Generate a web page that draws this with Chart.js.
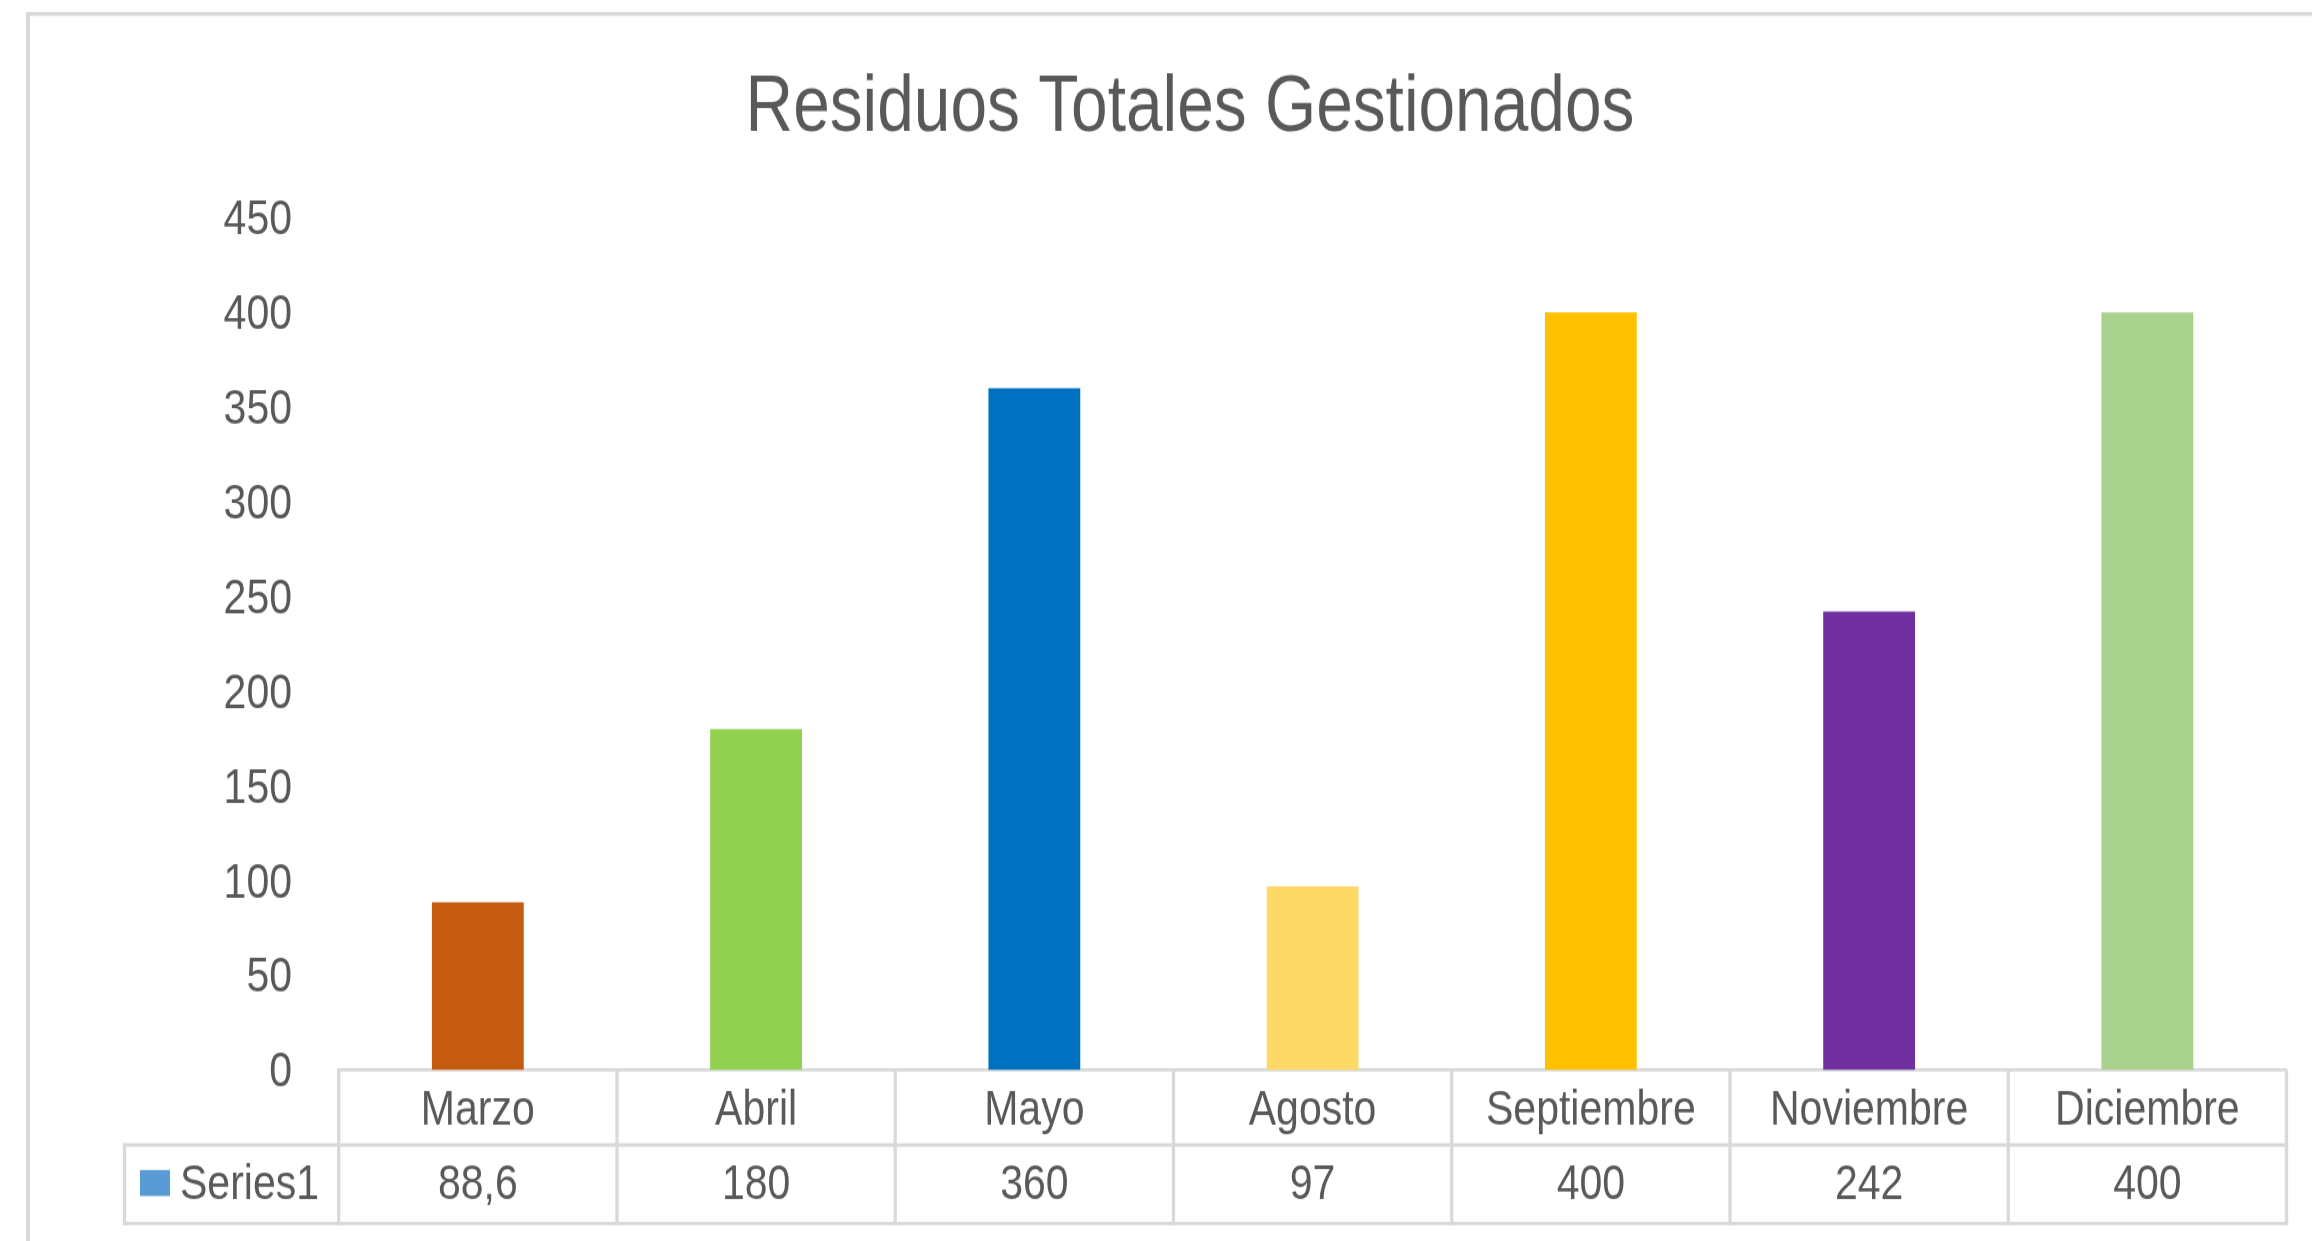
<!DOCTYPE html>
<html>
<head>
<meta charset="utf-8">
<script src="https://cdn.jsdelivr.net/npm/chart.js@4/dist/chart.umd.min.js"></script>
<style>
  html { margin: 0; padding: 0; background: #fff; overflow: hidden; }
  body { margin: 0; padding: 0; background: #fff; width: 2312px; height: 1241px; }
  /* the chart is laid out at a shorter height and stretched vertically,
     which gives the tall, narrow lettering of the original chart */
  #wrap { width: 2312px; height: 1034px; transform: scaleY(1.2002); transform-origin: 0 0; }
  canvas { display: block; }
</style>
</head>
<body>
<div id="wrap"><canvas id="chart" width="2312" height="1034"></canvas></div>
<script>
const chartTitle = 'Residuos Totales Gestionados';
const categories = ['Marzo', 'Abril', 'Mayo', 'Agosto', 'Septiembre', 'Noviembre', 'Diciembre'];
const seriesName = 'Series1';
const seriesValues = [88.6, 180, 360, 97, 400, 242, 400];
const barColors = ['#c55a11', '#92d050', '#0070c0', '#ffd966', '#ffc000', '#7030a0', '#a9d18e'];
const seriesKeyColor = '#5b9bd5';
const yMin = 0;
const yMax = 450;
const yStep = 50;

const SY = 1.2002;              // vertical stretch applied to the page
const FONT = '"Liberation Sans", Arial, sans-serif';
const TEXT = '#595959';
const RULE = '#d9d9d9';

function fmt(v) { return String(v).replace('.', ','); }

// frame round the chart plus the data table under the category axis
const dataTable = {
  id: 'dataTable',
  beforeDraw(chart) {
    const ctx = chart.ctx;
    ctx.save();
    ctx.fillStyle = '#fff';
    ctx.fillRect(0, 0, chart.width, chart.height);
    ctx.restore();
  },
  afterDraw(chart) {
    const ctx = chart.ctx;
    const x = chart.scales.x;
    const area = chart.chartArea;
    const top = area.bottom;
    const mid = 1145 / SY;
    const bot = 1223.5 / SY;
    const tableLeft = 124.5;
    const hw = 3.4 / SY;   // horizontal rule thickness
    const vw = 3.3;        // vertical rule thickness

    const line = (x1, y1, x2, y2) => { ctx.beginPath(); ctx.moveTo(x1, y1); ctx.lineTo(x2, y2); ctx.stroke(); };

    ctx.save();
    ctx.strokeStyle = RULE;

    // outer frame (top and left edges)
    ctx.lineWidth = 4 / SY;
    line(26, 14 / SY, chart.width, 14 / SY);
    ctx.lineWidth = 4;
    line(28, 12 / SY, 28, chart.height);

    // table rows
    ctx.lineWidth = hw;
    line(tableLeft - vw / 2, mid, area.right + vw / 2, mid);
    line(tableLeft - vw / 2, bot, area.right + vw / 2, bot);

    // table columns
    ctx.lineWidth = vw;
    const n = categories.length;
    for (let i = 0; i <= n; i++) {
      const bx = x.left + (x.right - x.left) * i / n;
      line(bx, top, bx, bot + hw / 2);
    }
    line(tableLeft, mid - hw / 2, tableLeft, bot + hw / 2);

    // legend key
    ctx.fillStyle = seriesKeyColor;
    ctx.fillRect(140, 1170 / SY, 30, 26 / SY);

    // series name and values
    ctx.fillStyle = TEXT;
    ctx.font = '41px ' + FONT;
    ctx.textBaseline = 'alphabetic';
    ctx.textAlign = 'left';
    ctx.fillText(seriesName, 180, 1199 / SY);
    ctx.textAlign = 'center';
    seriesValues.forEach((v, i) => ctx.fillText(fmt(v), x.getPixelForValue(i), 1199 / SY));
    ctx.restore();
  }
};

new Chart(document.getElementById('chart'), {
  type: 'bar',
  data: {
    labels: categories,
    datasets: [{
      label: seriesName,
      data: seriesValues,
      backgroundColor: barColors,
      borderWidth: 0,
      barPercentage: 0.33,
      categoryPercentage: 1
    }]
  },
  options: {
    responsive: false,
    animation: false,
    devicePixelRatio: 1,
    layout: { padding: { left: 93.5, right: 25.5, top: 0, bottom: 0 } },
    plugins: {
      legend: { display: false },
      tooltip: { enabled: false },
      title: {
        display: true,
        text: chartTitle,
        color: TEXT,
        font: { family: FONT, size: 65.8, weight: 'normal' },
        padding: { top: 51.8, bottom: 50.6 }
      }
    },
    scales: {
      x: {
        grid: { display: false, drawTicks: false },
        border: { display: true, color: RULE, width: 2.8 },
        ticks: {
          color: TEXT,
          font: { family: FONT, size: 41 },
          padding: 9.9,
          maxRotation: 0,
          autoSkip: false
        },
        afterFit(s) { s.height = 1034 - 891.5; }
      },
      y: {
        min: yMin,
        max: yMax,
        grid: { display: false, drawTicks: false },
        border: { display: false },
        ticks: {
          stepSize: yStep,
          color: TEXT,
          // an empty leading line with a tight line height sets each
          // value a couple of pixels below its tick position
          font: { family: FONT, size: 41, lineHeight: 0.122 },
          callback: (value) => ['', String(value)],
          padding: 46.7
        },
        afterFit(s) { s.width = 245.2; }
      }
    }
  },
  plugins: [dataTable]
});
</script>
</body>
</html>
